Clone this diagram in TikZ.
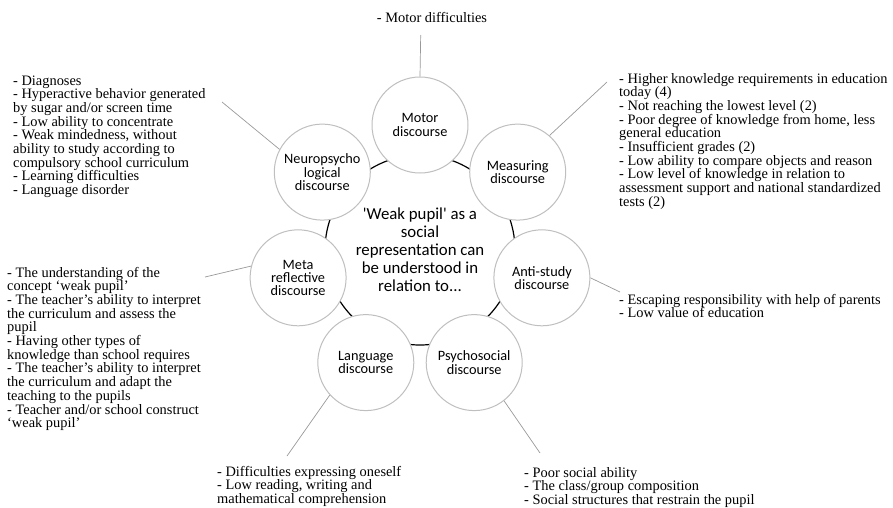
\documentclass[tikz,border=0pt]{standalone}
\usepackage{fontspec}
\setmainfont{Liberation Serif}
\newfontfamily\calib{Carlito}
\begin{document}
\begin{tikzpicture}[x=1pt,y=-1pt,
  disc/.style={circle, draw=gray!50, fill=white, line width=1pt, minimum size=96pt, inner sep=0pt, align=center, font=\calib\fontsize{14.3}{13.3}\selectfont},
  core/.style={circle, draw=black, line width=1.2pt, minimum size=190pt, inner sep=0pt, align=center, font=\calib\fontsize{16.8}{18}\selectfont},
  item/.style={anchor=base west, align=left, inner sep=0pt, font=\fontsize{14.4}{13.7}\selectfont},
  link/.style={draw=black!40, line width=0.7pt}]
\useasboundingbox (0,0) rectangle (893,507);
% central circle
\node[core] (center) at (420,250) {\textquotesingle Weak pupil\textquotesingle{} as a\\social\\representation can\\be understood in\\relation to...};
% discourse circles
\node[disc] (motor) at (420,125) {Motor\\discourse};
\node[disc] (meas) at (517.7,172.1) {Measuring\\discourse};
\node[disc] (anti) at (541.9,277.8) {Anti-study\\discourse};
\node[disc] (psych) at (474.2,362.6) {Psychosocial\\discourse};
\node[disc] (lang) at (365.8,362.6) {Language\\discourse};
\node[disc] (meta) at (298.1,277.8) {Meta\\reflective\\discourse};
\node[disc] (neuro) at (322.3,172.1) {Neuropsycho\\logical\\discourse};
% text blocks (base = baseline of the last line)
\node[item, anchor=base] (motorTxt) at (432,22) {- Motor difficulties};
\node[item] (neuroTxt) at (13,194.6) {- Diagnoses\\- Hyperactive behavior generated\\by sugar and/or screen time\\- Low ability to concentrate\\- Weak mindedness, without\\ability to study according to\\compulsory school curriculum\\- Learning difficulties\\- Language disorder};
\node[item] (measTxt) at (619,206.3) {- Higher knowledge requirements in education\\today (4)\\- Not reaching the lowest level (2)\\- Poor degree of knowledge from home, less\\general education\\- Insufficient grades (2)\\- Low ability to compare objects and reason\\- Low level of knowledge in relation to\\assessment support and national standardized\\tests (2)};
\node[item] (metaTxt) at (7,427.7) {- The understanding of the\\concept ‘weak pupil’\\- The teacher’s ability to interpret\\the curriculum and assess the\\pupil\\- Having other types of\\knowledge than school requires\\- The teacher’s ability to interpret\\the curriculum and adapt the\\teaching to the pupils\\- Teacher and/or school construct\\‘weak pupil’};
\node[item] (antiTxt) at (619,317.7) {- Escaping responsibility with help of parents\\- Low value of education};
\node[item] (langTxt) at (217,503.4) {- Difficulties expressing oneself\\- Low reading, writing and\\mathematical comprehension};
\node[item] (psychTxt) at (524,504.4) {- Poor social ability\\- The class/group composition\\- Social structures that restrain the pupil};
% connector end points
\coordinate (motorEnd) at (420.7,35);
\coordinate (neuroEnd) at (222,102);
\coordinate (measEnd) at (607,82);
\coordinate (antiEnd) at (620,292);
\coordinate (psychEnd) at (540,453);
\coordinate (langEnd) at (287,456);
\coordinate (metaEnd) at (205,277);
% connectors
\draw[link] (motor.north) -- (motorEnd);
\draw[link] (neuro.152) -- (neuroEnd);
\draw[link] (meas.49) -- (measEnd);
\draw[link] (anti.east) -- (antiEnd);
\draw[link] (psych.-52) -- (psychEnd);
\draw[link] (lang.222) -- (langEnd);
\draw[link] (meta.166) -- (metaEnd);
\end{tikzpicture}
\end{document}
